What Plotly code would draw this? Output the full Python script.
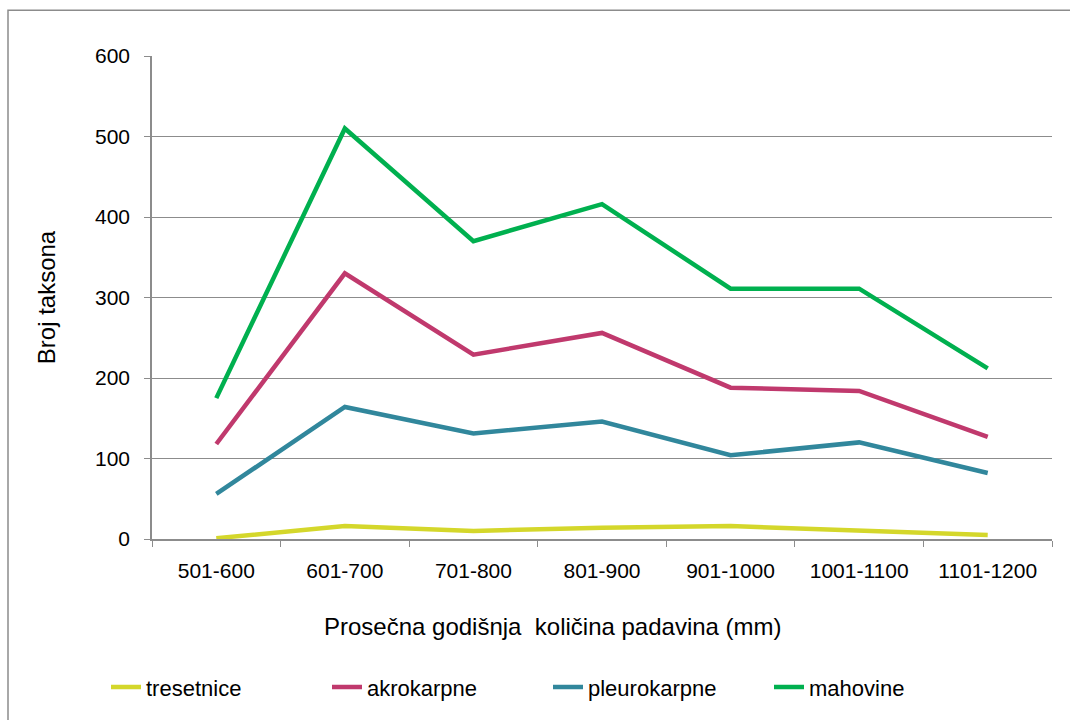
import plotly.graph_objects as go

# --- data ---
categories = ["501-600", "601-700", "701-800", "801-900", "901-1000", "1001-1100", "1101-1200"]
tresetnice = [1, 16, 10, 14, 16, 10, 5]
akrokarpne = [118, 330, 229, 256, 188, 184, 127]
pleurokarpne = [56, 164, 131, 146, 104, 120, 82]
mahovine = [175, 510, 370, 416, 311, 311, 212]

series = [
    ("tresetnice", tresetnice, "#d4d72b"),
    ("akrokarpne", akrokarpne, "#c0396d"),
    ("pleurokarpne", pleurokarpne, "#31879c"),
    ("mahovine", mahovine, "#00b04f"),
]

FONT = "Liberation Sans, Arial, sans-serif"
GRID = "#8c8c8c"

fig = go.Figure()
for name, vals, color in series:
    fig.add_trace(go.Scatter(
        x=categories, y=vals, mode="lines", name=name,
        line=dict(color=color, width=4.5),
    ))

fig.update_layout(
    width=1070, height=720,
    paper_bgcolor="white", plot_bgcolor="white",
    margin=dict(l=152, r=18, t=56, b=179),
    font=dict(family=FONT, size=21, color="black"),
    showlegend=True,
    legend=dict(
        orientation="h", x=0.44, xanchor="center", y=-0.307, yanchor="middle",
        font=dict(size=22), entrywidthmode="pixels", entrywidth=176,
        bgcolor="rgba(0,0,0,0)",
    ),
)

fig.update_xaxes(
    type="category", tickson="boundaries", ticks="outside", ticklen=6,
    tickcolor=GRID, showline=True, linecolor=GRID, linewidth=1.5,
    showgrid=False, tickfont=dict(size=21), range=[-0.5, 6.5],
    ticklabelstandoff=12,
)
fig.update_yaxes(
    range=[0, 600], dtick=100, ticks="outside", ticklen=6, tickcolor=GRID,
    showline=True, linecolor=GRID, linewidth=1.5,
    showgrid=True, gridcolor=GRID, gridwidth=1.2, zeroline=False,
    tickfont=dict(size=21), ticklabelstandoff=10,
)

# axis titles as annotations
fig.add_annotation(
    text="Prosečna godišnja  količina padavina (mm)", xref="paper", yref="paper",
    x=0.445, y=-0.182, xanchor="center", yanchor="middle", showarrow=False,
    font=dict(size=24),
)
fig.add_annotation(
    text="Broj taksona", xref="paper", yref="paper", textangle=-90,
    x=-0.117, y=0.5, xanchor="center", yanchor="middle", showarrow=False,
    font=dict(size=24),
)

# outer chart frame
fig.add_shape(
    type="rect", xref="paper", yref="paper",
    x0=-0.16, x1=1.1, y0=-0.5, y1=1.0948,
    line=dict(color="#8c8c8c", width=1.5), layer="below",
)

fig.write_html("out.html", config={"displayModeBar": False},
               post_script="document.body.style.margin='0';")
